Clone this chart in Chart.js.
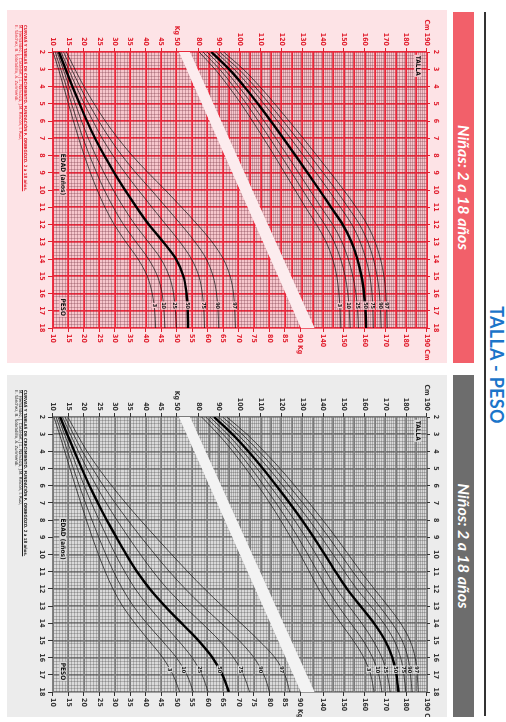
<!DOCTYPE html>
<html lang="es">
<head>
<meta charset="UTF-8">
<meta name="viewport" content="width=device-width, initial-scale=1.0">
<title>Talla - Peso</title>
<script src="https://cdn.jsdelivr.net/npm/chart.js"></script>
<style>
    html, body {
        margin: 0;
        padding: 0;
        width: 506px;
        height: 722px;
        overflow: hidden;
        background: #fff;
    }
    /* la hoja se maqueta apaisada y luego se gira 90 grados */
    #hoja {
        position: absolute;
        left: 0;
        top: 0;
        width: 722px;
        height: 506px;
        transform-origin: 0 0;
        transform: translate(506px, 0) rotate(90deg);
    }
    #titulo {
        position: absolute;
        left: 290px;
        width: 150px;
        top: -2px;
        text-align: center;
        font: 700 18px Lato, "Open Sans", sans-serif;
        color: #1b75c9;
        letter-spacing: 0.3px;
    }
    #linea {
        position: absolute;
        left: 12px;
        top: 20px;
        width: 704px;
        height: 1.5px;
        background: #333;
    }
    .cabecera {
        position: absolute;
        top: 32px;
        height: 21px;
        line-height: 21px;
        text-align: center;
        color: #fff;
        font: italic 700 16px Lato, "Open Sans", sans-serif;
    }
    .panel {
        position: absolute;
        top: 59px;
        height: 440px;
    }
    .panel canvas {
        position: absolute;
        left: 0;
        top: 0;
    }
    .ref {
        position: absolute;
        left: 15px;
        top: 420px;
        font: 4.3px/4.6px "DejaVu Sans Condensed", "DejaVu Sans", sans-serif;
        white-space: nowrap;
    }
    .ref b { text-decoration: underline; }
</style>
</head>
<body>
<div id="hoja">
    <div id="titulo">TALLA - PESO</div>
    <div id="linea"></div>

    <div class="cabecera" style="left:12px; width:351px; background:#f2606a;">Niñas: 2 a 18 años</div>
    <div class="cabecera" style="left:375px; width:342px; background:#6d6d6d;">Niños: 2 a 18 años</div>

    <div class="panel" style="left:10px; width:353px; background:#fde3e6;">
        <canvas id="ninas" width="353" height="440"></canvas>
        <div class="ref" style="color:#e1202f;">
            <b>CURVAS Y TABLAS DE CRECIMIENTO. FUNDACIÓN F. ORBEGOZO. 2 a 18 años.</b><br>
            M. Hernández, J. Castellet, J.L. Narvaiza, J.M. Rincón, I. Ruiz,<br>
            E. Sánchez, B. Sobradillo, A. Zurimendi.
        </div>
    </div>

    <div class="panel" style="left:375px; width:342px; background:#ececec;">
        <canvas id="ninos" width="342" height="440"></canvas>
        <div class="ref" style="color:#222;">
            <b>CURVAS Y TABLAS DE CRECIMIENTO. FUNDACIÓN F. ORBEGOZO. 2 a 18 años.</b><br>
            M. Hernández, J. Castellet, J.L. Narvaiza, J.M. Rincón, I. Ruiz,<br>
            E. Sánchez, B. Sobradillo, A. Zurimendi.
        </div>
    </div>
</div>

<script>
    // datos (edad en años, peso en kg, talla en cm)
    const EDADES = [2, 3, 4, 5, 6, 7, 8, 9, 10, 11, 12, 13, 14, 15, 16, 17, 18];
    const PERCENTILES = [3, 10, 25, 50, 75, 90, 97];

    const NINAS_PESO = [
        [10.0, 11.8, 13.4, 15.0, 16.6, 18.3, 20.1, 22.1, 24.3, 26.8, 29.8, 33.5, 37.5, 40.5, 42.1, 42.9, 43.2],
        [10.7, 12.5, 14.3, 16.0, 17.8, 19.7, 21.8, 24.1, 26.6, 29.5, 32.8, 36.8, 40.9, 43.8, 45.3, 45.9, 46.2],
        [11.3, 13.3, 15.2, 17.2, 19.2, 21.4, 23.8, 26.5, 29.5, 32.8, 36.5, 40.8, 44.9, 47.6, 49.0, 49.6, 50.0],
        [11.9, 14.1, 16.3, 18.6, 21.0, 23.6, 26.6, 29.8, 33.3, 37.0, 41.0, 45.6, 49.8, 52.2, 53.2, 53.6, 53.7],
        [12.6, 15.0, 17.5, 20.1, 22.9, 25.9, 29.4, 33.3, 37.6, 42.0, 46.5, 51.0, 54.8, 57.2, 58.3, 58.8, 59.0],
        [13.4, 16.0, 18.7, 21.6, 24.8, 28.3, 32.3, 36.8, 41.8, 46.6, 51.4, 55.9, 59.6, 61.8, 62.9, 63.4, 63.6],
        [14.3, 17.1, 20.0, 23.3, 26.9, 31.0, 35.6, 40.8, 46.3, 51.6, 56.7, 61.4, 65.1, 67.3, 68.4, 68.8, 69.0]
    ];
    const NINAS_TALLA = [
        [80.3, 88.0, 94.5, 100.5, 106.0, 111.3, 116.5, 121.5, 126.5, 131.5, 136.8, 141.4, 144.6, 146.6, 147.6, 148.2, 148.5],
        [82.2, 90.2, 96.9, 103.1, 108.8, 114.3, 119.7, 124.9, 130.1, 135.3, 140.8, 145.3, 148.4, 150.6, 151.9, 152.6, 153.0],
        [84.1, 92.4, 99.3, 105.7, 111.6, 117.3, 122.8, 128.2, 133.6, 139.0, 144.6, 149.0, 152.1, 154.3, 155.8, 156.6, 157.0],
        [86.2, 94.8, 102.0, 108.6, 114.8, 120.8, 126.7, 132.5, 138.2, 143.8, 149.4, 153.6, 156.5, 158.5, 159.7, 160.4, 160.7],
        [88.3, 97.2, 104.7, 111.5, 118.0, 124.3, 130.5, 136.6, 142.6, 148.3, 153.8, 157.8, 160.6, 162.5, 163.5, 164.0, 164.2],
        [90.2, 99.4, 107.1, 114.1, 120.8, 127.3, 133.7, 140.0, 146.2, 152.0, 157.5, 161.5, 164.2, 166.0, 167.1, 167.6, 167.9],
        [92.1, 101.6, 109.5, 116.7, 123.6, 130.4, 137.0, 143.5, 149.9, 155.9, 161.2, 165.0, 167.6, 169.3, 170.2, 170.6, 170.8]
    ];
    const NINOS_PESO = [
        [10.3, 12.1, 13.8, 15.5, 17.2, 19.0, 20.8, 22.7, 24.7, 26.9, 29.4, 32.5, 36.5, 41.0, 45.5, 48.8, 51.0],
        [11.0, 12.9, 14.7, 16.6, 18.5, 20.5, 22.6, 24.8, 27.1, 29.6, 32.5, 36.0, 40.3, 45.2, 49.9, 53.3, 55.4],
        [11.6, 13.7, 15.8, 17.9, 20.1, 22.4, 24.9, 27.5, 30.2, 33.2, 36.6, 40.8, 45.6, 50.5, 55.0, 58.2, 60.2],
        [12.3, 14.6, 16.9, 19.3, 21.8, 24.5, 27.4, 30.5, 33.7, 37.2, 41.3, 46.2, 51.6, 57.0, 61.6, 64.8, 66.9],
        [13.1, 15.6, 18.2, 21.0, 24.0, 27.2, 30.7, 34.4, 38.3, 42.4, 47.0, 52.4, 58.2, 63.8, 68.4, 71.6, 73.6],
        [13.9, 16.6, 19.5, 22.8, 26.3, 30.1, 34.2, 38.5, 43.0, 47.7, 52.8, 58.4, 64.4, 70.2, 75.0, 78.2, 80.1],
        [14.8, 17.8, 21.0, 24.8, 29.0, 33.5, 38.3, 43.3, 48.4, 53.6, 59.0, 64.8, 70.8, 76.6, 81.8, 85.0, 86.6]
    ];
    const NINOS_TALLA = [
        [81.5, 89.5, 96.5, 102.8, 108.7, 114.3, 119.5, 124.4, 129.0, 133.4, 137.8, 142.8, 148.5, 154.5, 159.6, 162.9, 164.5],
        [83.5, 91.8, 99.0, 105.5, 111.5, 117.3, 122.8, 127.9, 132.7, 137.3, 142.0, 147.3, 153.3, 159.2, 163.8, 166.8, 168.3],
        [85.5, 94.0, 101.4, 108.2, 114.4, 120.5, 126.2, 131.6, 136.6, 141.5, 146.5, 152.4, 158.6, 164.0, 168.3, 170.9, 172.3],
        [87.5, 96.3, 104.0, 111.0, 117.5, 123.8, 129.8, 135.5, 140.8, 146.0, 151.5, 158.0, 164.5, 169.8, 173.3, 175.3, 176.3],
        [89.6, 98.7, 106.6, 113.9, 120.6, 127.1, 133.3, 139.2, 144.8, 150.3, 156.2, 162.8, 169.2, 174.2, 177.3, 178.9, 179.8],
        [91.6, 101.0, 109.1, 116.6, 123.5, 130.2, 136.6, 142.7, 148.5, 154.3, 160.5, 167.0, 173.2, 178.0, 180.8, 182.1, 182.8],
        [93.6, 103.3, 111.6, 119.3, 126.4, 133.3, 139.9, 146.2, 152.2, 158.2, 164.6, 171.2, 177.3, 181.8, 184.3, 185.3, 185.8]
    ];

    // rotulos de los ejes
    const PESO_IZQ = [10, 15, 20, 25, 30, 35, 40, 45, 50];
    const PESO_DCHA = [10, 15, 20, 25, 30, 35, 40, 45, 50, 55, 60, 65, 70, 75, 80, 85, 90];
    const TALLA_IZQ = [80, 90, 100, 110, 120, 130, 140, 150, 160, 170, 180, 190];
    const TALLA_DCHA = [140, 150, 160, 170, 180, 190];

    // franja blanca que separa peso y talla (en kg, a los 2 y a los 18 años)
    const FRANJA_EDADES = [2, 18];
    const FRANJA_INF = [50.8, 90.2];
    const FRANJA_SUP = [54.3, 94.6];

    const PESO_MIN = 10, PESO_MAX = 131;
    const TALLA_MIN = 10, TALLA_MAX = 190;
    const EDAD_ROTULO = 16.7;

    const NOTAS = [
        { texto: 'EDAD (años)', edad: 9.1, eje: 'yW', valor: 13.2 },
        { texto: 'PESO', edad: 16.8, eje: 'yW', valor: 13.2 },
        { texto: 'TALLA', edad: 2.8, eje: 'yH', valor: 185.5 }
    ];

    const FUENTE = '"DejaVu Sans Condensed", "Liberation Sans Narrow", "DejaVu Sans", sans-serif';

    function pasos(min, max, paso) {
        const out = [];
        for (let i = 0; min + i * paso <= max + 1e-9; i++) out.push(+(min + i * paso).toFixed(2));
        return out;
    }
    const esMultiplo = (v, paso) => Math.abs(v / paso - Math.round(v / paso)) < 1e-6;

    function valorEn(datos, edad) {
        for (let i = 1; i < datos.length; i++) {
            if (datos[i].x >= edad) {
                const a = datos[i - 1], b = datos[i];
                return a.y + (b.y - a.y) * (edad - a.x) / (b.x - a.x);
            }
        }
        return datos[datos.length - 1].y;
    }

    // escala lineal cuya cuadricula solo se pinta a un lado de la franja
    class EscalaRecortada extends Chart.LinearScale {
        drawGrid(area) {
            const zona = this.options.zona;
            const ctx = this.ctx;
            ctx.save();
            if (zona) {
                const c = this.chart, ys = c.scales.yW;
                const borde = zona === 'peso' ? FRANJA_INF : FRANJA_SUP;
                const lim = zona === 'peso' ? area.top : area.bottom;
                ctx.beginPath();
                ctx.rect(0, 0, c.width, c.height);
                ctx.moveTo(area.left, ys.getPixelForValue(borde[0]));
                ctx.lineTo(area.right, ys.getPixelForValue(borde[1]));
                ctx.lineTo(area.right, lim);
                ctx.lineTo(area.left, lim);
                ctx.closePath();
                ctx.clip('evenodd');
            }
            super.drawGrid(area);
            ctx.restore();
        }
    }
    EscalaRecortada.id = 'recortada';
    EscalaRecortada.defaults = Chart.LinearScale.defaults;
    Chart.register(EscalaRecortada);

    const fondo = {
        id: 'fondo',
        beforeDraw(chart, args, o) {
            const { ctx, chartArea: r } = chart;
            ctx.save();
            ctx.fillStyle = o.color;
            ctx.fillRect(r.left, r.top, r.width, r.height);
            ctx.restore();
        }
    };

    // los ejes de talla comparten columna con los de peso
    const columnas = {
        id: 'columnas',
        afterLayout(chart) {
            const s = chart.scales;
            s.yHl.left = s.yWl.left;
            s.yH2.right = s.yW2.right;
        }
    };

    const rotulos = {
        id: 'rotulos',
        afterDatasetsDraw(chart, args, o) {
            const { ctx } = chart, xs = chart.scales.x;
            ctx.save();
            ctx.textAlign = 'center';
            ctx.textBaseline = 'middle';
            ctx.font = 'bold 5.5px ' + FUENTE;
            chart.data.datasets.forEach(ds => {
                if (!ds.pct) return;
                const x = xs.getPixelForValue(EDAD_ROTULO);
                const y = chart.scales[ds.yAxisID].getPixelForValue(valorEn(ds.data, EDAD_ROTULO));
                const w = ctx.measureText(ds.pct).width + 1.5;
                ctx.fillStyle = o.fondo;
                ctx.fillRect(x - w / 2, y - 2.5, w, 5);
                ctx.fillStyle = '#111';
                ctx.fillText(ds.pct, x, y);
            });
            ctx.font = 'bold 6.5px ' + FUENTE;
            NOTAS.forEach(n => {
                const x = xs.getPixelForValue(n.edad);
                const y = chart.scales[n.eje].getPixelForValue(n.valor);
                const w = ctx.measureText(n.texto).width + 2;
                ctx.fillStyle = o.fondo;
                ctx.fillRect(x - w / 2, y - 3.5, w, 7);
                ctx.fillStyle = '#111';
                ctx.fillText(n.texto, x, y);
            });
            ctx.restore();
        }
    };

    function crearGrafica(id, peso, talla, margenDcho, col) {
        const datasets = [
            {
                data: FRANJA_EDADES.map((e, i) => ({ x: e, y: FRANJA_INF[i] })),
                yAxisID: 'yW', borderColor: 'transparent', borderWidth: 0, pointRadius: 0,
                fill: '+1', backgroundColor: col.franja, order: 10
            },
            {
                data: FRANJA_EDADES.map((e, i) => ({ x: e, y: FRANJA_SUP[i] })),
                yAxisID: 'yW', borderColor: 'transparent', borderWidth: 0, pointRadius: 0,
                fill: false, order: 10
            }
        ];
        [[peso, 'yW'], [talla, 'yH']].forEach(([serie, eje]) => {
            PERCENTILES.forEach((p, i) => {
                datasets.push({
                    data: EDADES.map((e, k) => ({ x: e, y: serie[i][k] })),
                    yAxisID: eje,
                    borderColor: p === 50 ? '#000' : '#1a1a1a',
                    borderWidth: p === 50 ? 2.4 : 0.75,
                    pointRadius: 0,
                    fill: false,
                    cubicInterpolationMode: 'monotone',
                    pct: String(p)
                });
            });
        });

        const fuente = { family: FUENTE, size: 7, weight: 'bold' };
        const sinBorde = { display: false };

        // escala que solo pinta la cuadricula (sin rotulos, asi no hay autoSkip)
        const rejilla = (extra, min, max, paso, mayor) => Object.assign({
            type: 'recortada',
            min, max,
            afterBuildTicks: s => { s.ticks = pasos(min, max, paso).map(v => ({ value: v })); },
            afterFit: s => { if (s.isHorizontal()) s.height = 0; else s.width = 0; },
            grid: {
                drawTicks: false,
                color: c => esMultiplo(c.tick.value, mayor) ? col.mayor : col.menor,
                lineWidth: c => esMultiplo(c.tick.value, mayor) ? 1.7 : 0.6
            },
            border: sinBorde,
            ticks: { display: false }
        }, extra);

        // escala que solo pinta rotulos y marcas
        const rotulo = (extra, min, max, valores, texto, tam, marca) => Object.assign({
            type: 'linear',
            min, max,
            afterBuildTicks: s => { s.ticks = valores.map(v => ({ value: v })); },
            afterFit: s => { if (s.isHorizontal()) s.height = tam; else s.width = tam; },
            grid: { drawOnChartArea: false, tickLength: marca, color: col.texto, lineWidth: 1 },
            border: sinBorde,
            ticks: {
                autoSkip: false, maxRotation: 0, padding: 2, color: col.texto, font: fuente,
                callback: texto
            }
        }, extra);

        const ultimo = lista => lista[lista.length - 1];

        new Chart(document.getElementById(id), {
            type: 'line',
            data: { datasets },
            options: {
                responsive: false,
                maintainAspectRatio: false,
                animation: false,
                events: [],
                layout: { padding: 0 },
                plugins: {
                    legend: { display: false },
                    tooltip: { enabled: false },
                    fondo: { color: col.fondo },
                    rotulos: { fondo: col.fondo }
                },
                scales: {
                    x: rejilla({ axis: 'x', position: 'bottom', weight: 0 }, 2, 18, 0.2, 1),
                    yW: rejilla({ axis: 'y', position: 'left', weight: 0, zona: 'peso' }, PESO_MIN, PESO_MAX, 1, 5),
                    yH: rejilla({ axis: 'y', position: 'left', weight: 0, zona: 'talla' }, TALLA_MIN, TALLA_MAX, 1, 5),
                    xL: rotulo({ axis: 'x', position: 'bottom', weight: 1 }, 2, 18, EDADES, v => String(v), 46, 5),
                    x2: rotulo({ axis: 'x', position: 'top', weight: 1 }, 2, 18, EDADES, v => String(v), 20, 3),
                    yWl: rotulo({ axis: 'y', position: 'left', weight: 2 }, PESO_MIN, PESO_MAX, PESO_IZQ,
                        v => v === ultimo(PESO_IZQ) ? 'Kg ' + v : String(v), 42, 4),
                    yHl: rotulo({ axis: 'y', position: 'left', weight: 1 }, TALLA_MIN, TALLA_MAX, TALLA_IZQ,
                        v => v === ultimo(TALLA_IZQ) ? 'Cm ' + v : String(v), 0, 4),
                    yW2: rotulo({ axis: 'y', position: 'right', weight: 2 }, PESO_MIN, PESO_MAX, PESO_DCHA,
                        v => v === ultimo(PESO_DCHA) ? v + ' Kg' : String(v), margenDcho, 4),
                    yH2: rotulo({ axis: 'y', position: 'right', weight: 1 }, TALLA_MIN, TALLA_MAX, TALLA_DCHA,
                        v => v === ultimo(TALLA_DCHA) ? v + ' Cm' : String(v), 0, 4)
                }
            },
            plugins: [fondo, columnas, rotulos]
        });
    }

    crearGrafica('ninas', NINAS_PESO, NINAS_TALLA, 35, {
        fondo: '#f6c6cc', mayor: '#e9283b', menor: 'rgba(120,55,70,0.55)',
        texto: '#e1202f', franja: '#fcecee'
    });
    crearGrafica('ninos', NINOS_PESO, NINOS_TALLA, 25, {
        fondo: '#dadada', mayor: '#7a7a7a', menor: 'rgba(70,70,70,0.5)',
        texto: '#333333', franja: '#f3f3f3'
    });
</script>
</body>
</html>
